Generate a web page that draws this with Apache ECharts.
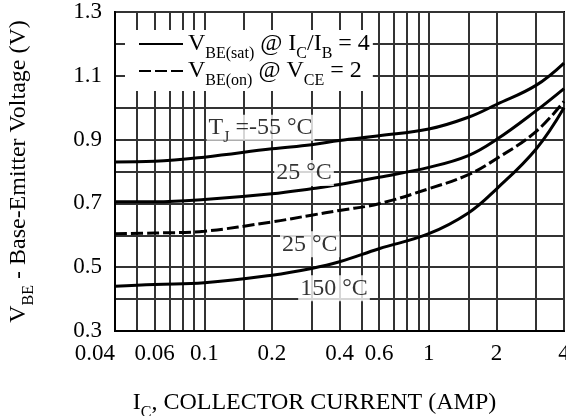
<!DOCTYPE html>
<html>
<head>
<meta charset="utf-8">
<script src="https://cdn.jsdelivr.net/npm/echarts@6/dist/echarts.min.js"></script>
<style>html,body{margin:0;padding:0;background:#fff;}#c{width:566px;height:416px;}</style>
</head>
<body>
<div id="c"></div>
<script>
// ---- data ----
const xGridValues = [0.04,0.05,0.06,0.07,0.08,0.09,0.1,0.15,0.2,0.3,0.4,0.5,0.6,0.7,0.8,0.9,1,1.5,2,3,4];
const xTickLabels = [0.04,0.06,0.1,0.2,0.4,0.6,1,2,4];
const yTickLabels = [0.3,0.5,0.7,0.9,1.1,1.3];
const current = [0.04,0.06,0.1,0.2,0.3,0.4,0.6,1,1.5,2,3,4];
const vbeSatM55 = [0.83,0.832,0.845,0.871,0.884,0.897,0.912,0.933,0.97,1.01,1.07,1.14];
const vbeSat25  = [0.705,0.705,0.712,0.73,0.746,0.759,0.782,0.813,0.85,0.9,0.99,1.06];
const vbeOn25   = [0.605,0.607,0.613,0.642,0.663,0.678,0.699,0.746,0.79,0.84,0.925,1.02];
const vbeSat150 = [0.44,0.446,0.451,0.475,0.496,0.517,0.558,0.605,0.67,0.745,0.87,1.0];
const curveLabelText = ['{n|T}{s|J}{n| =-55 °C}', '{n|25 °C}', '{n|25 °C}', '{n|150 °C}'];
const curveLabelX = [0.178, 0.278, 0.295, 0.378];
const curveLabelY = [0.9375, 0.795, 0.572, 0.434];
const legendSat = '{n|V}{s|BE(sat)}{n| @ I}{s|C}{n|/I}{s|B}{n| = 4}';
const legendOn  = '{n|V}{s|BE(on)}{n| @ V}{s|CE}{n| = 2}';
const xTitle = '{n|I}{s|C}{n|, COLLECTOR CURRENT (AMP)}';
const yTitle = '{n|V}{s|BE}{n| - Base-Emitter Voltage (V)}';

const FONT = "'Liberation Serif','Times New Roman',serif";
const rich = {
  n: {fontFamily: FONT, fontSize: 24, lineHeight: 24, color: '#000', verticalAlign: 'top'},
  s: {fontFamily: FONT, fontSize: 16, lineHeight: 16, color: '#000', verticalAlign: 'top', padding: [14,0,0,0]}
};

function pairs(xs, ys){ return xs.map((x,i)=>[x, ys[i]]); }

const chart = echarts.init(document.getElementById('c'), null, {renderer:'canvas'});
const lineBase = {type:'line', symbol:'none', smooth:0.4, z:3, silent:true, clip:false};
chart.setOption({
  animation:false,
  backgroundColor:'#fff',
  grid:{left:115, right:2, top:12, bottom:85, show:true, borderColor:'#000', borderWidth:2,
        containLabel:false, outerBoundsMode:'none'},
  legend:{
    data:['sat','on'], orient:'vertical', left:125, top:30,
    padding:[2,3,2,13], itemGap:-3, itemWidth:44, itemHeight:14,
    backgroundColor:'#fff', selectedMode:false, z:6,
    itemStyle:{opacity:0},
    formatter:function(name){ return name==='sat' ? legendSat : legendOn; },
    textStyle:{fontFamily:FONT, fontSize:24, color:'#000', rich:rich}
  },
  xAxis:{
    type:'log', logBase:10, min:0.0399999, max:4.00001,
    name:xTitle, nameLocation:'middle', nameGap:60,
    nameTextStyle:{fontFamily:FONT, fontSize:24, color:'#000', rich:rich, padding:[0,50,0,0]},
    axisLine:{show:true, lineStyle:{color:'#000', width:2}},
    axisTick:{show:false, customValues:xGridValues},
    axisLabel:{customValues:xTickLabels, fontFamily:FONT, fontSize:23, color:'#000', margin:11,
      showMinLabel:true, showMaxLabel:true, hideOverlap:false, alignMinLabel:'right',
      formatter:function(v){ return String(+(+v).toPrecision(6)); }},
    splitLine:{show:true, lineStyle:{color:'#333', width:2}}
  },
  yAxis:{
    type:'value', min:0.3, max:1.3, interval:0.1,
    name:yTitle, nameLocation:'middle', nameGap:84,
    nameTextStyle:{fontFamily:FONT, fontSize:24, color:'#000', rich:rich},
    axisLine:{show:true, lineStyle:{color:'#000', width:2}},
    axisTick:{show:false},
    axisLabel:{customValues:yTickLabels, fontFamily:FONT, fontSize:23, color:'#000', margin:13,
      formatter:function(v){ return (+v).toFixed(1); }},
    splitLine:{show:true, lineStyle:{color:'#333', width:2}}
  },
  series:[
    Object.assign({}, lineBase, {name:'sat', data:pairs(current, vbeSatM55), lineStyle:{color:'#000', width:3}, itemStyle:{color:'#000'}}),
    Object.assign({}, lineBase, {name:'sat', data:pairs(current, vbeSat25), lineStyle:{color:'#000', width:3}, itemStyle:{color:'#000'}}),
    Object.assign({}, lineBase, {name:'on', data:pairs(current, vbeOn25), lineStyle:{color:'#000', width:3, type:[12,4]}, itemStyle:{color:'#000'}}),
    Object.assign({}, lineBase, {name:'sat', data:pairs(current, vbeSat150), lineStyle:{color:'#000', width:3}, itemStyle:{color:'#000'}}),
    {
      type:'scatter', name:'labels', symbolSize:2, itemStyle:{color:'rgba(0,0,0,0)'}, z:5, silent:true,
      labelLayout:{hideOverlap:false},
      data: curveLabelX.map((x,i)=>({value:[x, curveLabelY[i]], label:{formatter:curveLabelText[i]}})),
      label:{show:true, position:'inside', backgroundColor:'#fff', padding:[1,2,1,2],
        fontFamily:FONT, fontSize:24, color:'#000', rich:rich}
    }
  ]
});
</script>
</body>
</html>
